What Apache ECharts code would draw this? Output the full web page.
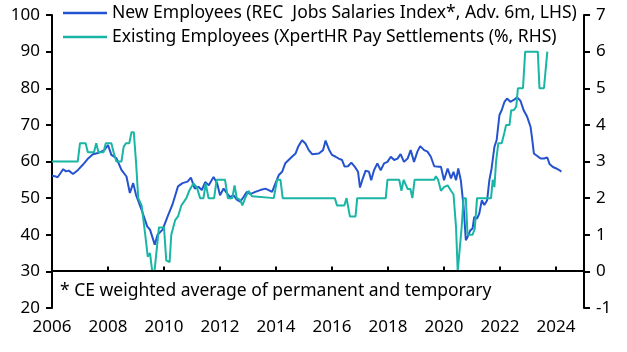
<!DOCTYPE html>
<html>
<head>
<meta charset="utf-8">
<script src="https://cdn.jsdelivr.net/npm/echarts@6/dist/echarts.min.js"></script>
<style>
    html, body { margin: 0; padding: 0; background: #fff; }
    #chart { width: 627px; height: 352px; }
</style>
</head>
<body>
<div id="chart"></div>
<script>
var FONT = '"Noto Sans", sans-serif';

var newName = 'New Employees (REC  Jobs Salaries Index*, Adv. 6m, LHS)';
var existName = 'Existing Employees (XpertHR Pay Settlements (%, RHS)';
var note = '* CE weighted average of permanent and temporary';

var xTicks = [2006, 2008, 2010, 2012, 2014, 2016, 2018, 2020, 2022, 2024];

// new employees, LHS index (decimal years)
var newYears = [
    2006.0, 2006.1, 2006.2, 2006.3, 2006.4, 2006.5, 2006.6, 2006.75, 2006.93, 2007.1,
    2007.3, 2007.46, 2007.64, 2007.76, 2007.88, 2008.0, 2008.12, 2008.3, 2008.48, 2008.66,
    2008.78, 2008.9, 2009.0, 2009.2, 2009.4, 2009.5, 2009.67, 2009.77, 2009.95, 2010.13,
    2010.3, 2010.5, 2010.66, 2010.84, 2010.96, 2011.1, 2011.23, 2011.35, 2011.47, 2011.6,
    2011.77, 2011.9, 2012.0, 2012.13, 2012.25, 2012.36, 2012.48, 2012.6, 2012.72, 2012.84,
    2012.96, 2013.08, 2013.26, 2013.44, 2013.62, 2013.74, 2013.86, 2013.98, 2014.1, 2014.22,
    2014.33, 2014.45, 2014.57, 2014.7, 2014.79, 2014.93, 2015.05, 2015.17, 2015.29, 2015.53,
    2015.68, 2015.77, 2015.89, 2016.0, 2016.13, 2016.24, 2016.36, 2016.45, 2016.57, 2016.69,
    2016.81, 2016.93, 2017.0, 2017.08, 2017.2, 2017.32, 2017.4, 2017.5, 2017.62, 2017.74,
    2017.86, 2017.98, 2018.1, 2018.22, 2018.34, 2018.45, 2018.57, 2018.7, 2018.81, 2018.93,
    2019.05, 2019.15, 2019.29, 2019.41, 2019.53, 2019.65, 2019.77, 2019.89, 2020.0, 2020.13,
    2020.25, 2020.34, 2020.43, 2020.51, 2020.6, 2020.7, 2020.78, 2020.84, 2020.94, 2021.02,
    2021.08, 2021.18, 2021.26, 2021.35, 2021.44, 2021.54, 2021.62, 2021.7, 2021.8, 2021.88,
    2021.98, 2022.06, 2022.16, 2022.25, 2022.37, 2022.49, 2022.61, 2022.73, 2022.85, 2022.97,
    2023.09, 2023.14, 2023.21, 2023.33, 2023.45, 2023.57, 2023.69, 2023.77, 2023.89, 2024.01,
    2024.13, 2024.19
];
var newValues = [
    56.1, 56.0, 55.7, 56.8, 57.9, 57.3, 57.5, 56.6, 57.7, 59.1,
    60.9, 62.0, 62.3, 62.7, 63.2, 64.5, 61.8, 60.9, 57.7, 55.9,
    51.4, 54.1, 50.9, 46.8, 42.3, 41.4, 37.3, 40.0, 41.4, 45.0,
    48.2, 53.2, 54.1, 54.5, 55.6, 52.6, 53.1, 52.2, 54.4, 53.5,
    55.8, 54.0, 50.8, 52.6, 51.3, 50.3, 50.8, 49.6, 49.0, 50.3,
    51.7, 51.1, 51.7, 52.2, 52.6, 52.2, 51.7, 54.0, 56.3, 57.2,
    59.5, 60.4, 61.3, 62.2, 64.0, 65.8, 64.9, 63.1, 62.0, 62.2,
    63.1, 65.7, 63.3, 61.8, 61.3, 60.8, 60.4, 58.6, 58.7, 59.7,
    58.6, 57.2, 52.9, 54.9, 57.5, 57.2, 54.9, 57.6, 59.5, 57.6,
    59.5, 59.9, 61.3, 60.4, 60.8, 62.0, 59.9, 60.8, 63.1, 59.9,
    62.7, 64.2, 63.1, 62.7, 61.3, 58.7, 58.6, 58.6, 54.9, 58.1,
    55.4, 57.2, 54.9, 58.1, 54.9, 47.6, 38.5, 39.4, 41.2, 41.7,
    44.9, 44.4, 45.8, 49.4, 48.1, 49.4, 54.9, 58.1, 64.0, 65.8,
    72.7, 74.0, 76.3, 77.2, 76.3, 76.8, 77.5, 76.6, 73.9, 72.2,
    69.5, 66.7, 62.2, 61.5, 60.8, 60.8, 61.1, 59.3, 58.5, 58.1,
    57.6, 57.2
];

// existing employees, RHS %
var existYears = [
    2006.0, 2006.92, 2007.0, 2007.2, 2007.28, 2007.5, 2007.58, 2007.66, 2007.84, 2007.92,
    2008.12, 2008.2, 2008.3, 2008.48, 2008.56, 2008.64, 2008.76, 2008.84, 2008.92, 2009.0,
    2009.08, 2009.2, 2009.33, 2009.42, 2009.5, 2009.58, 2009.66, 2009.74, 2009.82, 2010.0,
    2010.08, 2010.2, 2010.26, 2010.4, 2010.5, 2010.62, 2010.8, 2010.9, 2011.05, 2011.17,
    2011.29, 2011.41, 2011.49, 2011.59, 2011.79, 2011.88, 2012.18, 2012.28, 2012.44, 2012.52,
    2012.6, 2012.72, 2012.8, 2012.9, 2013.02, 2013.14, 2013.92, 2014.04, 2014.16, 2014.24,
    2016.1, 2016.18, 2016.44, 2016.52, 2016.58, 2016.64, 2016.84, 2016.9, 2017.92, 2017.98,
    2018.4, 2018.48, 2018.56, 2018.63, 2018.7, 2018.8, 2018.87, 2018.95, 2019.65, 2019.71,
    2019.79, 2019.89, 2020.0, 2020.13, 2020.25, 2020.34, 2020.43, 2020.49, 2020.55, 2020.63,
    2020.7, 2020.78, 2020.84, 2021.02, 2021.1, 2021.18, 2021.68, 2021.74, 2021.8, 2021.86,
    2021.94, 2022.06, 2022.16, 2022.22, 2022.34, 2022.4, 2022.49, 2022.58, 2022.64, 2022.82,
    2022.9, 2023.35, 2023.41, 2023.57, 2023.69
];
var existValues = [
    3.0, 3.0, 3.5, 3.5, 3.25, 3.25, 3.5, 3.25, 3.25, 3.5,
    3.5, 3.25, 3.0, 3.0, 3.4, 3.5, 3.5, 3.8, 3.8, 3.0,
    2.0, 1.8, 1.0, 0.4, 0.5, 0.0, 0.0, 0.6, 1.2, 1.2,
    0.3, 0.25, 1.0, 1.4, 1.5, 1.8, 2.0, 2.2, 2.4, 2.3,
    2.0, 2.0, 2.4, 2.0, 2.0, 2.5, 2.5, 2.0, 2.0, 2.35,
    2.0, 1.95, 1.8, 2.0, 2.2, 2.05, 2.0, 2.5, 2.5, 2.0,
    2.0, 1.8, 1.8, 2.0, 2.0, 1.5, 1.5, 2.0, 2.0, 2.5,
    2.5, 2.2, 2.5, 2.5, 2.25, 2.25, 2.0, 2.5, 2.5, 2.6,
    2.5, 2.2, 2.3, 2.35, 2.2, 2.1, 1.2, 0.0, 0.0, 1.2,
    2.0, 2.0, 1.0, 1.0, 1.17, 2.0, 2.0, 2.5, 2.3, 3.0,
    3.5, 3.5, 3.8, 4.0, 4.0, 4.4, 4.4, 4.5, 5.0, 5.0,
    6.0, 6.0, 5.0, 5.0, 6.0
];

function pairs(xs, ys) {
    return xs.map(function (x, i) { return [x, ys[i]]; });
}

var chart = echarts.init(document.getElementById('chart'));

var labelStyle = { color: '#000', fontFamily: FONT, fontSize: 17 };

var option = {
    animation: false,
    grid: { left: 52, right: 43, top: 15, bottom: 44 },
    legend: {
        orient: 'vertical',
        left: 58,
        top: -2,
        itemWidth: 44,
        itemHeight: 2.5,
        itemGap: 4,
        icon: 'rect',
        textStyle: { color: '#000', fontFamily: FONT, fontSize: 17.5, lineHeight: 20 },
        data: [newName, existName]
    },
    xAxis: {
        type: 'value',
        min: 2006,
        max: 2025,
        interval: 2,
        axisLine: { lineStyle: { color: '#000', width: 2 } },
        axisTick: { inside: true, length: 5, lineStyle: { color: '#000', width: 2 } },
        axisLabel: Object.assign({
            margin: 11,
            showMaxLabel: false,
            formatter: function (v) { return xTicks.indexOf(v) >= 0 ? String(v) : ''; }
        }, labelStyle),
        splitLine: { show: false }
    },
    yAxis: [{
        type: 'value',
        min: 20,
        max: 100,
        interval: 10,
        axisLine: { show: true, lineStyle: { color: '#000', width: 2 } },
        axisTick: { show: true, length: 6, lineStyle: { color: '#000', width: 2 } },
        axisLabel: Object.assign({ margin: 12 }, labelStyle),
        splitLine: { show: false }
    }, {
        type: 'value',
        min: -1,
        max: 7,
        interval: 1,
        position: 'right',
        axisLine: { show: true, lineStyle: { color: '#000', width: 2 } },
        axisTick: { show: true, length: 6, lineStyle: { color: '#000', width: 2 } },
        axisLabel: Object.assign({ margin: 12 }, labelStyle),
        splitLine: { show: false }
    }],
    graphic: [{
        type: 'rect',
        left: 53,
        top: 271,
        z: 10,
        shape: { width: 530, height: 36 },
        style: { fill: '#fff' }
    }, {
        type: 'line',
        z: 11,
        shape: { x1: 52, y1: 271, x2: 584, y2: 271 },
        style: { stroke: '#000', lineWidth: 2 }
    }, {
        type: 'text',
        left: 60,
        top: 282,
        z: 11,
        style: { text: note, fill: '#000', font: '17.5px ' + FONT }
    }],
    series: [{
        name: newName,
        type: 'line',
        yAxisIndex: 0,
        showSymbol: false,
        color: '#2553cf',
        lineStyle: { width: 2 },
        data: pairs(newYears, newValues)
    }, {
        name: existName,
        type: 'line',
        yAxisIndex: 1,
        showSymbol: false,
        color: '#19b5a5',
        lineStyle: { width: 2 },
        data: pairs(existYears, existValues)
    }]
};

chart.setOption(option);
</script>
</body>
</html>
